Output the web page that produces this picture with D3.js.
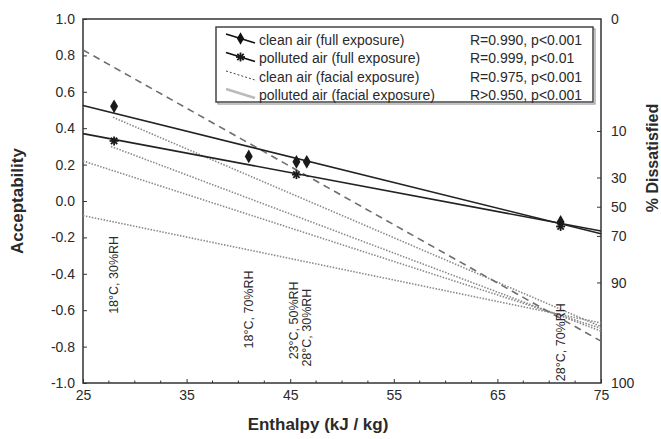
<!DOCTYPE html>
<html><head><meta charset="utf-8">
<script src="https://cdn.jsdelivr.net/npm/d3@7"></script>
<style>
body{margin:0;background:#fff;}
text{font-family:"Liberation Sans",Arial,sans-serif;fill:#2a2a2a;}
</style></head>
<body><svg id="c" width="661" height="439"></svg>
<script>
// ---------- data ----------
const conditions = ["18°C, 30%RH","18°C, 70%RH","23°C, 50%RH","28°C, 30%RH","28°C, 70%RH"];
const conditionEnthalpy = [28.0, 41.0, 45.6, 46.6, 71.1];
const conditionLabelBottom = [-0.62, -0.81, -0.87, -0.91, -0.99];

const cleanFullEnthalpy = [28.0, 41.0, 45.6, 46.6, 71.1];
const cleanFullAcc = [0.52, 0.245, 0.215, 0.215, -0.115];
const pollutedFullEnthalpy = [28.0, 45.6, 71.1];
const pollutedFullAcc = [0.33, 0.145, -0.14];

// regression lines: [start enthalpy, end enthalpy], [start acc, end acc]
const cleanFullFitX = [25, 75], cleanFullFitY = [0.525, -0.18];
const pollutedFullFitX = [25, 75], pollutedFullFitY = [0.37, -0.165];
const cleanFacialFitX = [25, 75], cleanFacialFitY = [0.83, -0.77];
const pollutedFacialStartX = [27.9, 27.7, 25, 25];
const pollutedFacialStartY = [0.46, 0.30, 0.22, -0.08];
const pollutedFacialEndX = [75, 75, 75, 75];
const pollutedFacialEndY = [-0.69, -0.715, -0.70, -0.67];

const xTicks = [25, 35, 45, 55, 65, 75];
const yTicks = [-1.0, -0.8, -0.6, -0.4, -0.2, 0.0, 0.2, 0.4, 0.6, 0.8, 1.0];
const pdTicks = [0, 10, 30, 50, 70, 90, 100];

const legendNames = ["clean air (full exposure)","polluted air (full exposure)","clean air (facial exposure)","polluted air (facial exposure)"];
const legendStats = ["R=0.990, p<0.001","R=0.999, p<0.01","R=0.975, p<0.001","R>0.950, p<0.001"];

// ---------- layout ----------
const svg = d3.select("#c");
const L = 83, R = 601, T = 19, B = 383;
const x = d3.scaleLinear().domain([25, 75]).range([L, R]);
const y = d3.scaleLinear().domain([-1, 1]).range([B, T]);
// Fanger relation acceptability -> % dissatisfied
const pdToAcc = pd => {
  if (pd <= 0) return 1; if (pd >= 100) return -1;
  return (-0.18 - Math.log(pd / (100 - pd))) / 5.28;
};

const axisCol = "#333";

// frame
svg.append("rect").attr("x", L).attr("y", T).attr("width", R - L).attr("height", B - T)
  .attr("fill", "none").attr("stroke", axisCol).attr("stroke-width", 1.5);

// left axis
const gl = svg.append("g").attr("transform", `translate(${L},0)`)
  .call(d3.axisLeft(y).tickValues(yTicks).tickSize(-4).tickPadding(8).tickFormat(d => d.toFixed(1)));
// bottom axis
const gb = svg.append("g").attr("transform", `translate(0,${B})`)
  .call(d3.axisBottom(x).tickValues(xTicks).tickSize(-4).tickPadding(7).tickFormat(d3.format("d")));
// minor bottom ticks
svg.append("g").selectAll("line").data(d3.range(25, 75.01, 2.5).filter(v => !xTicks.includes(v)))
  .join("line").attr("x1", d => x(d)).attr("x2", d => x(d)).attr("y1", B).attr("y2", B - 2.5)
  .attr("stroke", axisCol).attr("stroke-width", 1);
// right axis (% dissatisfied)
const yPd = d3.scaleLinear().domain([-1, 1]).range([B, T]);
const gr = svg.append("g").attr("transform", `translate(${R},0)`);
gr.selectAll("line").data(pdTicks.filter(v => v > 0 && v < 100)).join("line")
  .attr("x1", 0).attr("x2", -4).attr("y1", d => yPd(pdToAcc(d))).attr("y2", d => yPd(pdToAcc(d)))
  .attr("stroke", axisCol);
gr.selectAll("text").data(pdTicks).join("text")
  .attr("x", 10).attr("y", d => yPd(pdToAcc(d))).attr("dy", "0.35em")
  .attr("font-size", 14).text(d => d);

[gl, gb].forEach(g => {
  g.select(".domain").remove();
  g.selectAll(".tick line").attr("stroke", axisCol);
  g.selectAll(".tick text").attr("font-size", 14).attr("fill", "#2a2a2a")
    .attr("font-family", '"Liberation Sans",Arial,sans-serif');
});

// axis titles
svg.append("text").attr("transform", "translate(23,201) rotate(-90)").attr("text-anchor", "middle")
  .attr("font-size", 17).attr("font-weight", "bold").text("Acceptability");
svg.append("text").attr("x", 318).attr("y", 430).attr("text-anchor", "middle")
  .attr("font-size", 17).attr("font-weight", "bold").text("Enthalpy (kJ / kg)");
svg.append("text").attr("transform", "translate(658,158) rotate(-90)").attr("text-anchor", "middle")
  .attr("font-size", 16).attr("font-weight", "bold").text("% Dissatisfied");

// ---------- lines ----------
const line = d3.line().x(d => x(d[0])).y(d => y(d[1]));
const gLines = svg.append("g");
// polluted facial (dotted light gray)
pollutedFacialStartX.forEach((sx, i) => {
  gLines.append("path").attr("d", line([[sx, pollutedFacialStartY[i]], [pollutedFacialEndX[i], pollutedFacialEndY[i]]]))
    .attr("fill", "none").attr("stroke", "#8a8a8a").attr("stroke-width", 1.6).attr("stroke-dasharray", "1.5,1.5");
});
// clean facial (dashed)
gLines.append("path").attr("d", line(cleanFacialFitX.map((v, i) => [v, cleanFacialFitY[i]])))
  .attr("fill", "none").attr("stroke", "#6e6e6e").attr("stroke-width", 1.6).attr("stroke-dasharray", "7,5");
// full exposure fits
gLines.append("path").attr("d", line(cleanFullFitX.map((v, i) => [v, cleanFullFitY[i]])))
  .attr("fill", "none").attr("stroke", "#222").attr("stroke-width", 1.6);
gLines.append("path").attr("d", line(pollutedFullFitX.map((v, i) => [v, pollutedFullFitY[i]])))
  .attr("fill", "none").attr("stroke", "#222").attr("stroke-width", 1.6);

// markers
const diamond = d3.symbol().type(d3.symbolDiamond).size(55);
svg.append("g").selectAll("path").data(cleanFullEnthalpy).join("path")
  .attr("transform", (d, i) => `translate(${x(d)},${y(cleanFullAcc[i])})`)
  .attr("d", diamond()).attr("fill", "#1a1a1a");
function star(g, cx, cy, r) {
  [0, 45, 90, 135].forEach(a => {
    const rad = a * Math.PI / 180;
    g.append("line").attr("x1", cx - r * Math.cos(rad)).attr("y1", cy - r * Math.sin(rad))
      .attr("x2", cx + r * Math.cos(rad)).attr("y2", cy + r * Math.sin(rad))
      .attr("stroke", "#1a1a1a").attr("stroke-width", 1.8);
  });
}
const gStar = svg.append("g");
pollutedFullEnthalpy.forEach((d, i) => star(gStar, x(d), y(pollutedFullAcc[i]), 4.5));

// condition labels
svg.append("g").selectAll("text").data(conditions).join("text")
  .attr("transform", (d, i) => {
    let dx = 0;
    if (i === 2) dx = -3; if (i === 3) dx = 0;
    return `translate(${x(conditionEnthalpy[i]) + dx},${y(conditionLabelBottom[i])}) rotate(-90)`;
  })
  .attr("dy", "0.35em").attr("font-size", 12.5).text(d => d);

// ---------- legend ----------
const lg = svg.append("g");
lg.append("rect").attr("x", 218).attr("y", 29).attr("width", 377).attr("height", 75)
  .attr("fill", "none").attr("stroke", "#999").attr("stroke-width", 1.2);
lg.append("rect").attr("x", 216).attr("y", 27).attr("width", 377).attr("height", 75)
  .attr("fill", "#fff").attr("stroke", "#444").attr("stroke-width", 1.5);
const rowY = [40, 58.5, 77, 95];
legendNames.forEach((n, i) => {
  const yy = rowY[i];
  const x1 = 226, x2 = 255, y1 = yy - 6, y2 = yy + 3;
  const ln = lg.append("line").attr("x1", x1).attr("y1", y1).attr("x2", x2).attr("y2", y2);
  if (i < 2) ln.attr("stroke", "#111").attr("stroke-width", 1.8);
  else if (i === 2) ln.attr("stroke", "#444").attr("stroke-width", 1).attr("stroke-dasharray", "2,2");
  else ln.attr("stroke", "#bbb").attr("stroke-width", 2.5);
  if (i === 0) lg.append("path").attr("transform", `translate(${(x1 + x2) / 2},${(y1 + y2) / 2})`)
    .attr("d", d3.symbol().type(d3.symbolDiamond).size(45)()).attr("fill", "#111");
  if (i === 1) star(lg, (x1 + x2) / 2, (y1 + y2) / 2, 4.5);
  lg.append("text").attr("x", 259).attr("y", yy).attr("dy", "0.35em").attr("font-size", 14).text(n);
  lg.append("text").attr("x", 470).attr("y", yy).attr("dy", "0.35em").attr("font-size", 14).text(legendStats[i]);
});
</script></body></html>
